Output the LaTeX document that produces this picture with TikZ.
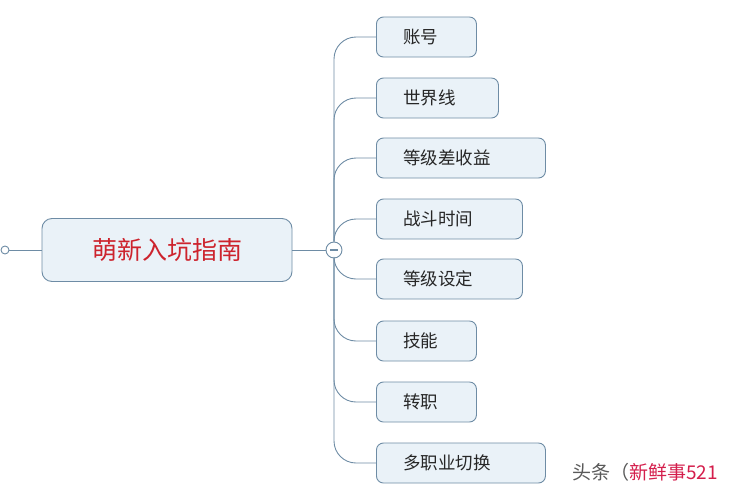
\documentclass[tikz,border=0pt]{standalone}
\usepackage{fontspec}
\setmainfont{Noto Sans CJK SC}
\begin{document}
\definecolor{boxfill}{RGB}{234,242,248}
\definecolor{boxline}{RGB}{110,140,165}
\definecolor{rootred}{RGB}{205,35,45}
\begin{tikzpicture}[x=1pt,y=-1pt,
  topic/.style={draw=boxline,fill=boxfill,rounded corners=7pt,line width=0.9pt,minimum height=40pt,anchor=west,inner xsep=0pt,align=left,text width=#1,font=\fontsize{17.5}{17.5}\selectfont,text=black!85},
  link/.style={draw=boxline,line width=0.9pt,rounded corners=22pt}]
\useasboundingbox (0,0) rectangle (750,498);
\node[draw=boxline,fill=boxfill,rounded corners=10pt,line width=0.9pt,minimum width=250pt,minimum height=63pt,text=rootred,font=\fontsize{25}{25}\selectfont] (root) at (167,250) {萌新入坑指南};
\node[circle,draw=boxline,fill=white,line width=0.9pt,inner sep=0pt,minimum size=8pt] (tail) at (5,250) {};
\node[circle,draw=boxline,fill=white,line width=0.9pt,inner sep=0pt,minimum size=16pt] (hub) at (334,250) {};
\draw[boxline,line width=1.2pt] (330,250) -- (338,250); %minus
\draw[link] (tail) -- (root);
\draw[link] (root) -- (hub);
\node[topic=100pt] (c1) at (376,37) {\hspace*{27pt}账号};
\node[topic=122pt] (c2) at (376,98) {\hspace*{27pt}世界线};
\node[topic=169pt] (c3) at (376,158) {\hspace*{27pt}等级差收益};
\node[topic=146pt] (c4) at (376,219) {\hspace*{27pt}战斗时间};
\node[topic=146pt] (c5) at (376,279) {\hspace*{27pt}等级设定};
\node[topic=100pt] (c6) at (376,341) {\hspace*{27pt}技能};
\node[topic=100pt] (c7) at (376,402) {\hspace*{27pt}转职};
\node[topic=169pt] (c8) at (376,463) {\hspace*{27pt}多职业切换};
\foreach \c in {c1,c2,c3,c4,c5,c6,c7,c8}
  \draw[link] (hub) |- (\c.west);
\node[anchor=west,inner sep=0pt,font=\fontsize{19}{19}\selectfont] (mark) at (572,472) {\textcolor{black!65}{头条（}\textcolor{rootred!85!magenta}{新鲜事521}};
\end{tikzpicture}
\end{document}
